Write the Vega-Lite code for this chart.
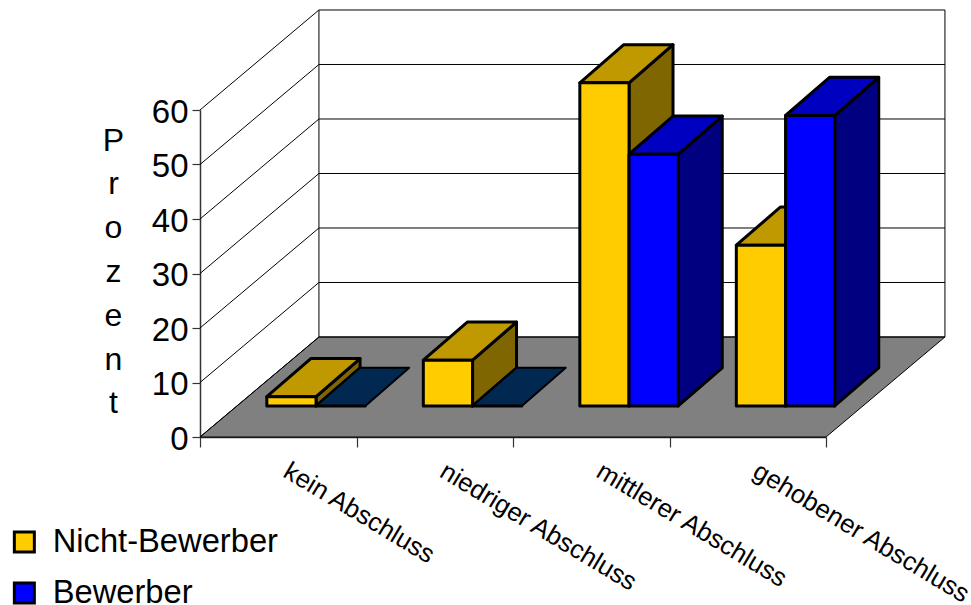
{
  "$schema": "https://vega.github.io/schema/vega-lite/v6.json",
  "width": 626,
  "height": 327,
  "autosize": {"type": "none"},
  "padding": {"left": 200, "top": 110, "right": 145, "bottom": 168},
  "background": "white",
  "config": {"view": {"stroke": null}, "font": "Liberation Sans"},
  "datasets": {
    "balken": [
      {"abschluss": "kein Abschluss", "pos": 0, "gruppe": "Nicht-Bewerber", "g": 0, "prozent": 1.7},
      {"abschluss": "kein Abschluss", "pos": 0, "gruppe": "Bewerber", "g": 1, "prozent": 0},
      {"abschluss": "niedriger Abschluss", "pos": 1, "gruppe": "Nicht-Bewerber", "g": 0, "prozent": 8.4},
      {"abschluss": "niedriger Abschluss", "pos": 1, "gruppe": "Bewerber", "g": 1, "prozent": 0},
      {"abschluss": "mittlerer Abschluss", "pos": 2, "gruppe": "Nicht-Bewerber", "g": 0, "prozent": 59.3},
      {"abschluss": "mittlerer Abschluss", "pos": 2, "gruppe": "Bewerber", "g": 1, "prozent": 46.2},
      {"abschluss": "gehobener Abschluss", "pos": 3, "gruppe": "Nicht-Bewerber", "g": 0, "prozent": 29.5},
      {"abschluss": "gehobener Abschluss", "pos": 3, "gruppe": "Bewerber", "g": 1, "prozent": 53.3}
    ],
    "kategorien": [
      {"abschluss": "kein Abschluss", "pos": 0},
      {"abschluss": "niedriger Abschluss", "pos": 1},
      {"abschluss": "mittlerer Abschluss", "pos": 2},
      {"abschluss": "gehobener Abschluss", "pos": 3}
    ],
    "skala": [
      {"wert": 0}, {"wert": 10}, {"wert": 20}, {"wert": 30}, {"wert": 40}, {"wert": 50}, {"wert": 60}
    ],
    "boden": [{"t": 0}, {"t": 1}]
  },
  "layer": [
    {
      "data": {"name": "boden"},
      "transform": [
        {"calculate": "datum.t * 18.35", "as": "yb"},
        {"calculate": "datum.t * 0.76", "as": "xl"},
        {"calculate": "4 + datum.t * 0.76", "as": "xr"}
      ],
      "mark": {"type": "area", "orient": "horizontal", "fill": "#808080", "stroke": "#000000", "strokeWidth": 1, "opacity": 1},
      "encoding": {
        "y": {
          "field": "yb", "type": "quantitative",
          "scale": {"domain": [0, 60], "nice": false, "zero": false},
          "axis": {
            "values": [0, 10, 20, 30, 40, 50, 60],
            "grid": false,
            "domainColor": "#333333", "domainWidth": 1.5,
            "tickColor": "#333333", "tickWidth": 1.2, "tickSize": 8,
            "labelFontSize": 33, "labelColor": "#000000", "labelPadding": 4, "labelOffset": 2,
            "title": ["P", "r", "o", "z", "e", "n", "t"],
            "titleFontSize": 32, "titleFontWeight": "normal", "titleColor": "#000000",
            "titleAngle": 0, "titleAlign": "center", "titleBaseline": "alphabetic",
            "titleLineHeight": 43.8, "titleX": -87, "titleY": 40
          }
        },
        "x": {
          "field": "xl", "type": "quantitative",
          "scale": {"domain": [0, 4], "nice": false, "zero": false},
          "axis": {
            "values": [0, 1, 2, 3, 4],
            "grid": false, "labels": false, "title": null,
            "domainColor": "#333333", "domainWidth": 1.5,
            "tickColor": "#333333", "tickWidth": 1.2, "tickSize": 10
          }
        },
        "x2": {"field": "xr"}
      }
    },
    {
      "data": {"name": "skala"},
      "transform": [{"calculate": "datum.wert + 18.35", "as": "hinten"}],
      "mark": {"type": "rule", "color": "#000000", "strokeWidth": 1},
      "encoding": {
        "x": {"datum": 0},
        "x2": {"datum": 0.76},
        "y": {"field": "wert", "type": "quantitative"},
        "y2": {"field": "hinten"}
      }
    },
    {
      "data": {"name": "skala"},
      "transform": [{"calculate": "datum.wert + 18.35", "as": "hinten"}],
      "mark": {"type": "rule", "color": "#000000", "strokeWidth": 1},
      "encoding": {
        "x": {"datum": 0.76},
        "x2": {"datum": 4.76},
        "y": {"field": "hinten", "type": "quantitative"}
      }
    },
    {
      "data": {"name": "skala"},
      "transform": [{"filter": "datum.wert === 0"}],
      "mark": {"type": "rule", "color": "#000000", "strokeWidth": 1},
      "encoding": {
        "x": {"datum": 0.76},
        "y": {"datum": 18.35},
        "y2": {"datum": 78.35}
      }
    },
    {
      "data": {"name": "skala"},
      "transform": [{"filter": "datum.wert === 0"}],
      "mark": {"type": "rule", "color": "#000000", "strokeWidth": 1},
      "encoding": {
        "x": {"datum": 4.76},
        "y": {"datum": 18.35},
        "y2": {"datum": 78.35}
      }
    },
    {
      "data": {"name": "balken"},
      "transform": [
        {"filter": "datum.g === 0"},
        {"calculate": "datum.pos + 0.427 + datum.g * 0.3145 + 0.3145", "as": "rechts"},
        {"calculate": "[0, 1]", "as": "t"},
        {"flatten": ["t"]},
        {"calculate": "datum.rechts + datum.t * 0.281", "as": "sx"},
        {"calculate": "5.69 + datum.t * 7", "as": "sy0"},
        {"calculate": "5.69 + datum.prozent + datum.t * 7", "as": "sy1"}
      ],
      "mark": {"type": "area", "orient": "vertical", "fill": "#806600", "stroke": "#000000", "strokeWidth": 3, "strokeJoin": "round", "opacity": 1},
      "encoding": {
        "x": {"field": "sx", "type": "quantitative", "stack": null},
        "y": {"field": "sy0", "type": "quantitative", "stack": null},
        "y2": {"field": "sy1"},
        "detail": {"field": "pos"}
      }
    },
    {
      "data": {"name": "balken"},
      "transform": [
        {"filter": "datum.g === 0"},
        {"calculate": "datum.pos + 0.427 + datum.g * 0.3145", "as": "links"},
        {"calculate": "[0, 1]", "as": "t"},
        {"flatten": ["t"]},
        {"calculate": "datum.links + datum.t * 0.281", "as": "tx0"},
        {"calculate": "datum.links + 0.3145 + datum.t * 0.281", "as": "tx1"},
        {"calculate": "5.69 + datum.prozent + datum.t * 7", "as": "ty"}
      ],
      "mark": {"type": "area", "orient": "horizontal", "fill": "#c09900", "stroke": "#000000", "strokeWidth": 3, "strokeJoin": "round", "opacity": 1},
      "encoding": {
        "y": {"field": "ty", "type": "quantitative", "stack": null},
        "x": {"field": "tx0", "type": "quantitative", "stack": null},
        "x2": {"field": "tx1"},
        "detail": {"field": "pos"}
      }
    },
    {
      "data": {"name": "balken"},
      "transform": [
        {"filter": "datum.g === 1 && datum.prozent > 0"},
        {"calculate": "datum.pos + 0.427 + datum.g * 0.3145 + 0.3145", "as": "rechts"},
        {"calculate": "[0, 1]", "as": "t"},
        {"flatten": ["t"]},
        {"calculate": "datum.rechts + datum.t * 0.281", "as": "sx"},
        {"calculate": "5.69 + datum.t * 7", "as": "sy0"},
        {"calculate": "5.69 + datum.prozent + datum.t * 7", "as": "sy1"}
      ],
      "mark": {"type": "area", "orient": "vertical", "fill": "#000080", "stroke": "#000000", "strokeWidth": 3, "strokeJoin": "round", "opacity": 1},
      "encoding": {
        "x": {"field": "sx", "type": "quantitative", "stack": null},
        "y": {"field": "sy0", "type": "quantitative", "stack": null},
        "y2": {"field": "sy1"},
        "detail": {"field": "pos"}
      }
    },
    {
      "data": {"name": "balken"},
      "transform": [
        {"filter": "datum.g === 1 && datum.prozent > 0"},
        {"calculate": "datum.pos + 0.427 + datum.g * 0.3145", "as": "links"},
        {"calculate": "[0, 1]", "as": "t"},
        {"flatten": ["t"]},
        {"calculate": "datum.links + datum.t * 0.281", "as": "tx0"},
        {"calculate": "datum.links + 0.3145 + datum.t * 0.281", "as": "tx1"},
        {"calculate": "5.69 + datum.prozent + datum.t * 7", "as": "ty"}
      ],
      "mark": {"type": "area", "orient": "horizontal", "fill": "#0000c0", "stroke": "#000000", "strokeWidth": 3, "strokeJoin": "round", "opacity": 1},
      "encoding": {
        "y": {"field": "ty", "type": "quantitative", "stack": null},
        "x": {"field": "tx0", "type": "quantitative", "stack": null},
        "x2": {"field": "tx1"},
        "detail": {"field": "pos"}
      }
    },
    {
      "data": {"name": "balken"},
      "transform": [
        {"filter": "datum.g === 1 && datum.prozent === 0"},
        {"calculate": "datum.pos + 0.427 + datum.g * 0.3145", "as": "links"},
        {"calculate": "[0, 1]", "as": "t"},
        {"flatten": ["t"]},
        {"calculate": "datum.links + datum.t * 0.281", "as": "tx0"},
        {"calculate": "datum.links + 0.3145 + datum.t * 0.281", "as": "tx1"},
        {"calculate": "5.69 + datum.t * 7", "as": "ty"}
      ],
      "mark": {"type": "area", "orient": "horizontal", "fill": "#002850", "stroke": "#000000", "strokeWidth": 2, "strokeJoin": "round", "opacity": 1},
      "encoding": {
        "y": {"field": "ty", "type": "quantitative", "stack": null},
        "x": {"field": "tx0", "type": "quantitative", "stack": null},
        "x2": {"field": "tx1"},
        "detail": {"field": "pos"}
      }
    },
    {
      "data": {"name": "balken"},
      "transform": [
        {"calculate": "datum.pos + 0.427 + datum.g * 0.3145", "as": "links"},
        {"calculate": "datum.links + 0.3145", "as": "rechts"},
        {"calculate": "5.69", "as": "fuss"},
        {"calculate": "5.69 + datum.prozent", "as": "kopf"}
      ],
      "mark": {"type": "rect", "stroke": "#000000", "strokeWidth": 3, "strokeJoin": "round", "opacity": 1},
      "encoding": {
        "x": {"field": "links", "type": "quantitative"},
        "x2": {"field": "rechts"},
        "y": {"field": "fuss", "type": "quantitative"},
        "y2": {"field": "kopf"},
        "color": {
          "field": "gruppe", "type": "nominal",
          "scale": {"domain": ["Nicht-Bewerber", "Bewerber"], "range": ["#ffcc00", "#0000ff"]},
          "legend": {
            "title": null,
            "orient": "none",
            "legendX": -192,
            "legendY": 415,
            "symbolType": "square",
            "symbolSize": 400,
            "symbolStrokeColor": "#000000",
            "symbolStrokeWidth": 3,
            "symbolOpacity": 1,
            "labelFontSize": 32.7,
            "labelColor": "#000000",
            "labelOffset": 12,
            "labelLimit": 400,
            "rowPadding": 17,
            "clipHeight": 34
          }
        }
      }
    },
    {
      "data": {"name": "kategorien"},
      "transform": [{"calculate": "datum.pos + 0.5", "as": "mitte"}],
      "mark": {"type": "text", "angle": 31, "align": "left", "baseline": "alphabetic", "fontSize": 25.8, "color": "#000000", "dx": 23.2, "dy": 31.6},
      "encoding": {
        "x": {"field": "mitte", "type": "quantitative"},
        "y": {"datum": 0},
        "text": {"field": "abschluss"}
      }
    }
  ]
}
